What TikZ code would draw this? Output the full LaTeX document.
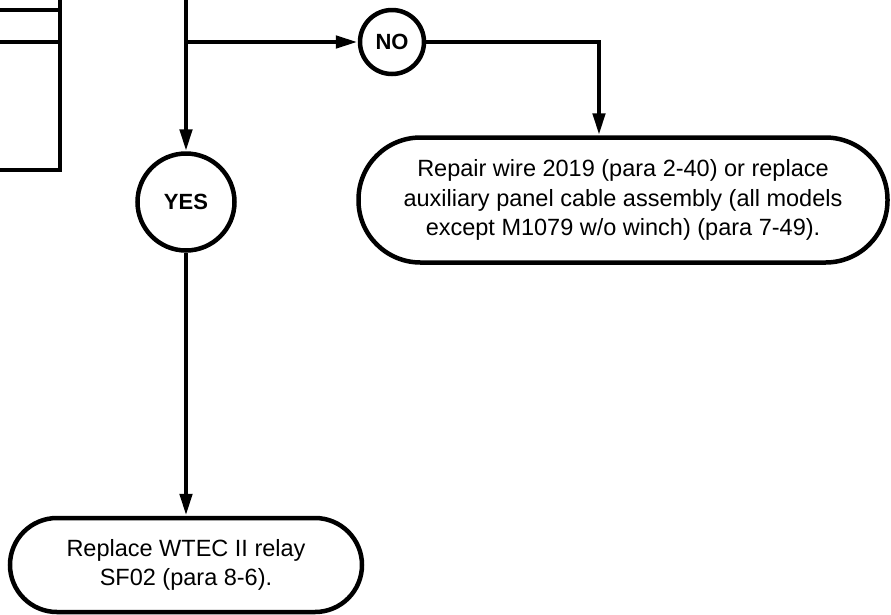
\documentclass[tikz,border=0pt]{standalone}
\usepackage{fontspec}
\setmainfont{Liberation Sans}
\usetikzlibrary{arrows.meta}
\tikzset{
  flow/.style={line width=4.5pt, draw=black},
  arr/.style={flow, -{Triangle[length=22pt,width=12pt]}},
  answer/.style={circle, draw=black, line width=4.5pt, font=\bfseries\fontsize{22}{26}\selectfont, inner sep=0pt},
  endbox/.style={draw=black, line width=4.5pt, align=center, font=\fontsize{23.5}{29.5}\selectfont, inner sep=0pt},
}
\begin{document}
\begin{tikzpicture}[x=1pt,y=-1pt]
\useasboundingbox (0,0) rectangle (891,614);
% partial shapes at the top left
\draw[flow] (0,10) -- (60,10);
\draw[flow] (0,42) -- (60,42);
\draw[flow] (60,-2) -- (60,170) -- (0,170);
% nodes
\node[answer, minimum size=64pt] (no) at (392,42) {NO};
\node[answer, minimum size=97pt] (yes) at (186,202) {YES};
\node[endbox, minimum width=529pt, minimum height=125pt, rounded corners=62pt] (rep) at (623,200)
  {Repair wire 2019 (para 2-40) or replace\\auxiliary panel cable assembly (all models\\except M1079 w/o winch) (para 7-49).};
\node[endbox, minimum width=352pt, minimum height=94pt, rounded corners=47pt] (relay) at (186,565)
  {Replace WTEC II relay\\SF02 (para 8-6).};
\coordinate (top) at (186,-2);
\coordinate (split) at (186,42);
\coordinate (turn) at (599,42);
% connectors
\draw[arr] (top) -- (yes.north);
\draw[arr] (split) -- (no.west);
\draw[arr] (no.east) -- (turn) -- (rep.north -| turn);
\draw[arr] (yes.south) -- (relay.north);
\end{tikzpicture}
\end{document}
